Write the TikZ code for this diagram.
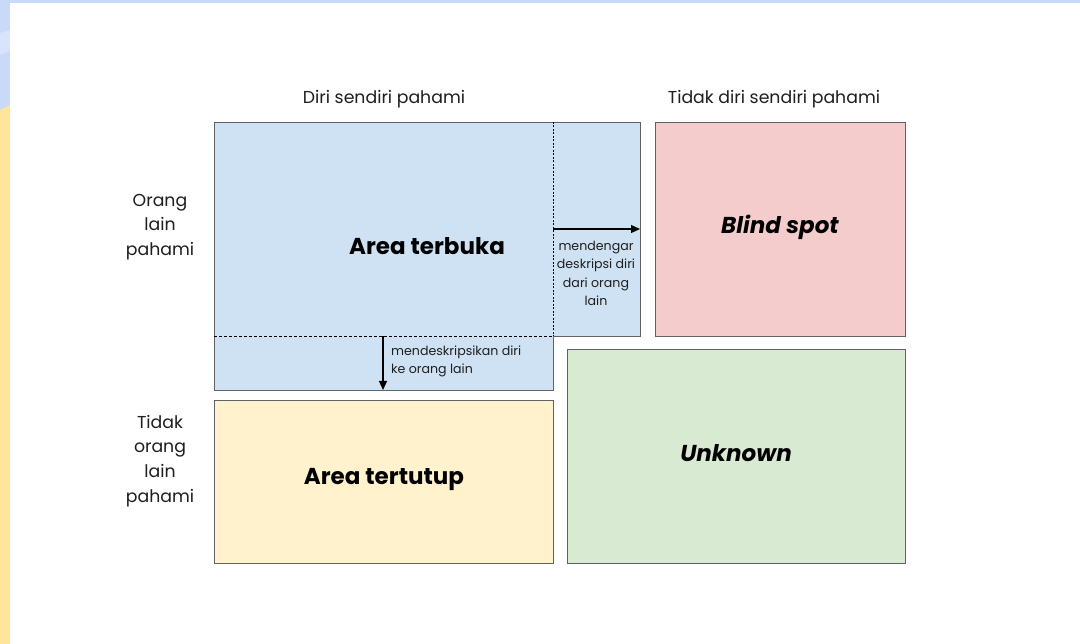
\documentclass[tikz,border=0pt]{standalone}
\usepackage{fontspec}
\setmainfont{Poppins}
\usetikzlibrary{arrows.meta}
\definecolor{bgblue}{HTML}{C9DAF8}
\definecolor{bgblue2}{HTML}{D7E4FB}
\definecolor{bgyellow}{HTML}{FFE599}
\definecolor{openblue}{HTML}{CFE2F3}
\definecolor{closedyellow}{HTML}{FFF2CC}
\definecolor{blindpink}{HTML}{F4CCCC}
\definecolor{unkgreen}{HTML}{D9EAD3}
\definecolor{edge}{HTML}{5F6368}
\definecolor{ink}{HTML}{1E1E1E}
\tikzset{
  box/.style={draw=edge, line width=0.9pt},
  head/.style={font=\fontsize{17.3}{20}\selectfont, text=ink, inner sep=0pt},
  side/.style={font=\fontsize{17.3}{24.7}\selectfont, text=ink, align=center, inner sep=0pt},
  title/.style={font=\fontsize{23}{26}\selectfont\bfseries, text=black, inner sep=0pt},
  ititle/.style={font=\fontsize{23}{26}\selectfont\bfseries\itshape, text=black, inner sep=0pt},
  note/.style={font=\fontsize{12.6}{17.5}\selectfont, text=ink, inner sep=0pt},
  flow/.style={-{Triangle[length=9pt,width=8pt]}, line width=1.2pt, black},
  guide/.style={line width=0.8pt, black, dash pattern=on 3pt off 2pt}
}
\begin{document}
\begin{tikzpicture}[x=1pt,y=-1pt]
\useasboundingbox (0,0) rectangle (1080,644);
% background decoration
\fill[bgblue] (0,0) rectangle (1080,644);
\fill[bgblue2] (0,33) -- (10,30) -- (10,51) -- (0,55) -- cycle;
\fill[bgyellow] (0,110) -- (10,105) -- (10,644) -- (0,644) -- cycle;
\fill[white] (10,3) rectangle (1080,644);
% boxes
\filldraw[box, fill=openblue] (214,122) -- (640,122) -- (640,336) -- (553,336) -- (553,390) -- (214,390) -- cycle;
\filldraw[box, fill=closedyellow] (214,400) rectangle (553,563);
\filldraw[box, fill=blindpink] (655,122) rectangle (905,336);
\filldraw[box, fill=unkgreen] (567,349) rectangle (905,563);
% guide lines
\draw[guide, dash pattern=on 2pt off 1.5pt] (553,122) -- (553,336);
\draw[guide] (214,336) -- (553,336);
% headers
\node[head] (h1) at (384,99) {Diri sendiri pahami};
\node[head] (h2) at (774,99) {Tidak diri sendiri pahami};
\node[side] (s1) at (160,227) {Orang\\lain\\pahami};
\node[side] (s2) at (160,461) {Tidak\\orang\\lain\\pahami};
% titles
\node[title] (open) at (427,246.5) {Area terbuka};
\node[title] (closed) at (384,479.5) {Area tertutup};
\node[ititle] (blind) at (780,227) {Blind spot};
\node[ititle] (unknown) at (736,453) {Unknown};
% arrows
\coordinate (a1s) at (553,229);
\coordinate (a1e) at (640,229);
\coordinate (a2s) at (383,336);
\coordinate (a2e) at (383,390);
\draw[flow] (a1s) -- (a1e);
\draw[flow] (a2s) -- (a2e);
\node[note, align=center, font=\fontsize{12.6}{18.3}\selectfont] (n1) at (596,273.5) {mendengar\\deskripsi diri\\dari orang\\lain};
\node[note, align=left, anchor=west] (n2) at (391,361.5) {mendeskripsikan diri\\ke orang lain};
\end{tikzpicture}
\end{document}
